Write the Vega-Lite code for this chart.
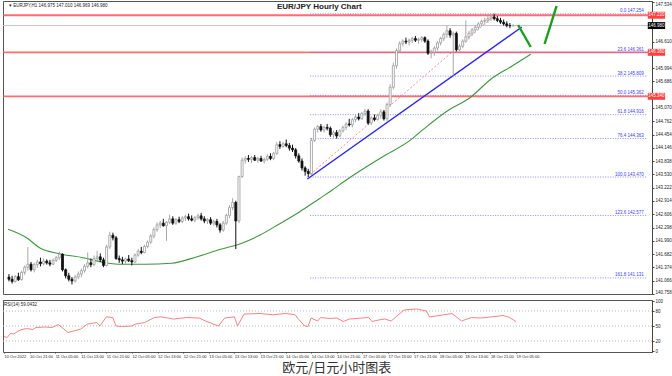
{
  "$schema": "https://vega.github.io/schema/vega-lite/v6.json",
  "background": "white",
  "padding": {"left": 1, "top": 0, "right": 0, "bottom": 0},
  "config": {
    "view": {"stroke": "#555", "strokeWidth": 1},
    "concat": {"spacing": 2},
    "axis": {"labelFont": "Liberation Sans", "labelFontSize": 4.5, "labelColor": "#222", "domainColor": "#444", "tickColor": "#444", "tickSize": 2, "labelPadding": 1, "grid": false, "title": null, "labelOverlap": false, "tickCount": 60},
    "text": {"font": "Liberation Sans"}
  },
  "title": {"text": "欧元/日元小时图表", "orient": "bottom", "anchor": "middle", "font": "Noto Sans CJK SC", "fontSize": 13, "fontWeight": "normal", "color": "#333", "offset": 3},
  "datasets": {
    "candles": [
      {"i":0,"o":141.15,"h":141.22,"l":141.05,"c":141.10},
      {"i":1,"o":141.10,"h":141.18,"l":141.00,"c":141.05},
      {"i":2,"o":141.05,"h":141.20,"l":141.02,"c":141.16},
      {"i":3,"o":141.16,"h":141.25,"l":141.06,"c":141.09},
      {"i":4,"o":141.09,"h":141.30,"l":141.07,"c":141.26},
      {"i":5,"o":141.26,"h":141.42,"l":141.20,"c":141.38},
      {"i":6,"o":141.38,"h":141.85,"l":141.30,"c":141.45},
      {"i":7,"o":141.45,"h":141.50,"l":141.28,"c":141.32},
      {"i":8,"o":141.32,"h":141.48,"l":141.26,"c":141.44},
      {"i":9,"o":141.44,"h":141.55,"l":141.36,"c":141.50},
      {"i":10,"o":141.50,"h":141.60,"l":141.40,"c":141.46},
      {"i":11,"o":141.46,"h":141.58,"l":141.42,"c":141.52},
      {"i":12,"o":141.52,"h":141.56,"l":141.44,"c":141.48},
      {"i":13,"o":141.48,"h":141.55,"l":141.40,"c":141.45},
      {"i":14,"o":141.45,"h":141.58,"l":141.43,"c":141.54},
      {"i":15,"o":141.54,"h":141.64,"l":141.50,"c":141.60},
      {"i":16,"o":141.60,"h":141.74,"l":141.55,"c":141.68},
      {"i":17,"o":141.68,"h":141.70,"l":141.28,"c":141.32},
      {"i":18,"o":141.32,"h":141.35,"l":141.12,"c":141.18},
      {"i":19,"o":141.18,"h":141.25,"l":141.05,"c":141.10},
      {"i":20,"o":141.10,"h":141.15,"l":140.98,"c":141.06},
      {"i":21,"o":141.06,"h":141.20,"l":141.02,"c":141.15},
      {"i":22,"o":141.15,"h":141.28,"l":141.10,"c":141.22},
      {"i":23,"o":141.22,"h":141.35,"l":141.15,"c":141.30},
      {"i":24,"o":141.30,"h":141.45,"l":141.25,"c":141.40},
      {"i":25,"o":141.40,"h":141.72,"l":141.35,"c":141.48},
      {"i":26,"o":141.48,"h":141.58,"l":141.38,"c":141.44},
      {"i":27,"o":141.44,"h":141.65,"l":141.40,"c":141.58},
      {"i":28,"o":141.58,"h":141.76,"l":141.52,"c":141.62},
      {"i":29,"o":141.62,"h":141.70,"l":141.50,"c":141.55},
      {"i":30,"o":141.55,"h":141.60,"l":141.38,"c":141.42},
      {"i":31,"o":141.42,"h":141.90,"l":141.40,"c":141.85},
      {"i":32,"o":141.85,"h":142.20,"l":141.80,"c":142.12},
      {"i":33,"o":142.12,"h":142.18,"l":142.00,"c":142.06},
      {"i":34,"o":142.06,"h":142.10,"l":141.55,"c":141.58},
      {"i":35,"o":141.58,"h":141.65,"l":141.48,"c":141.55},
      {"i":36,"o":141.55,"h":141.62,"l":141.45,"c":141.52},
      {"i":37,"o":141.52,"h":141.60,"l":141.46,"c":141.57},
      {"i":38,"o":141.57,"h":141.66,"l":141.50,"c":141.53},
      {"i":39,"o":141.53,"h":141.60,"l":141.42,"c":141.50},
      {"i":40,"o":141.50,"h":141.70,"l":141.48,"c":141.66},
      {"i":41,"o":141.66,"h":141.80,"l":141.62,"c":141.75},
      {"i":42,"o":141.75,"h":141.85,"l":141.68,"c":141.72},
      {"i":43,"o":141.72,"h":141.90,"l":141.70,"c":141.86},
      {"i":44,"o":141.86,"h":142.00,"l":141.82,"c":141.96},
      {"i":45,"o":141.96,"h":142.15,"l":141.92,"c":142.10},
      {"i":46,"o":142.10,"h":142.30,"l":142.05,"c":142.25},
      {"i":47,"o":142.25,"h":142.42,"l":142.20,"c":142.36},
      {"i":48,"o":142.36,"h":142.45,"l":142.28,"c":142.40},
      {"i":49,"o":142.40,"h":142.50,"l":142.32,"c":142.34},
      {"i":50,"o":142.34,"h":142.45,"l":141.99,"c":142.42},
      {"i":51,"o":142.42,"h":142.60,"l":142.38,"c":142.50},
      {"i":52,"o":142.50,"h":142.56,"l":142.36,"c":142.40},
      {"i":53,"o":142.40,"h":142.52,"l":142.36,"c":142.48},
      {"i":54,"o":142.48,"h":142.55,"l":142.40,"c":142.44},
      {"i":55,"o":142.44,"h":142.56,"l":142.40,"c":142.52},
      {"i":56,"o":142.52,"h":142.60,"l":142.45,"c":142.55},
      {"i":57,"o":142.55,"h":142.62,"l":142.46,"c":142.50},
      {"i":58,"o":142.50,"h":142.58,"l":142.44,"c":142.47},
      {"i":59,"o":142.47,"h":142.56,"l":142.42,"c":142.53},
      {"i":60,"o":142.53,"h":142.62,"l":142.48,"c":142.57},
      {"i":61,"o":142.57,"h":142.64,"l":142.46,"c":142.50},
      {"i":62,"o":142.50,"h":142.56,"l":142.40,"c":142.45},
      {"i":63,"o":142.45,"h":142.52,"l":142.38,"c":142.48},
      {"i":64,"o":142.48,"h":142.54,"l":142.36,"c":142.40},
      {"i":65,"o":142.40,"h":142.48,"l":142.34,"c":142.44},
      {"i":66,"o":142.44,"h":142.50,"l":142.30,"c":142.36},
      {"i":67,"o":142.36,"h":142.40,"l":142.18,"c":142.24},
      {"i":68,"o":142.24,"h":142.45,"l":142.20,"c":142.40},
      {"i":69,"o":142.40,"h":142.62,"l":142.36,"c":142.58},
      {"i":70,"o":142.58,"h":142.82,"l":142.52,"c":142.76},
      {"i":71,"o":142.76,"h":142.98,"l":142.70,"c":142.88},
      {"i":72,"o":142.88,"h":142.92,"l":141.80,"c":142.45},
      {"i":73,"o":142.45,"h":143.50,"l":142.40,"c":143.48},
      {"i":74,"o":143.48,"h":143.92,"l":143.45,"c":143.86},
      {"i":75,"o":143.86,"h":143.95,"l":143.78,"c":143.90},
      {"i":76,"o":143.90,"h":143.98,"l":143.82,"c":143.88},
      {"i":77,"o":143.88,"h":143.96,"l":143.80,"c":143.92},
      {"i":78,"o":143.92,"h":143.98,"l":143.84,"c":143.86},
      {"i":79,"o":143.86,"h":143.94,"l":143.80,"c":143.90},
      {"i":80,"o":143.90,"h":143.96,"l":143.82,"c":143.84},
      {"i":81,"o":143.84,"h":143.92,"l":143.78,"c":143.88},
      {"i":82,"o":143.88,"h":144.00,"l":143.84,"c":143.95},
      {"i":83,"o":143.95,"h":144.02,"l":143.86,"c":143.90},
      {"i":84,"o":143.90,"h":144.05,"l":143.86,"c":144.02},
      {"i":85,"o":144.02,"h":144.28,"l":143.98,"c":144.22},
      {"i":86,"o":144.22,"h":144.30,"l":144.12,"c":144.18},
      {"i":87,"o":144.18,"h":144.28,"l":144.14,"c":144.24},
      {"i":88,"o":144.24,"h":144.34,"l":144.16,"c":144.20},
      {"i":89,"o":144.20,"h":144.26,"l":144.08,"c":144.14},
      {"i":90,"o":144.14,"h":144.22,"l":144.05,"c":144.10},
      {"i":91,"o":144.10,"h":144.14,"l":143.90,"c":143.96},
      {"i":92,"o":143.96,"h":144.02,"l":143.80,"c":143.84},
      {"i":93,"o":143.84,"h":143.90,"l":143.62,"c":143.68},
      {"i":94,"o":143.68,"h":143.72,"l":143.50,"c":143.60},
      {"i":95,"o":143.60,"h":143.66,"l":143.47,"c":143.55},
      {"i":96,"o":143.55,"h":144.38,"l":143.52,"c":144.32},
      {"i":97,"o":144.32,"h":144.62,"l":144.28,"c":144.58},
      {"i":98,"o":144.58,"h":144.68,"l":144.50,"c":144.64},
      {"i":99,"o":144.64,"h":144.70,"l":144.52,"c":144.56},
      {"i":100,"o":144.56,"h":144.66,"l":144.50,"c":144.62},
      {"i":101,"o":144.62,"h":144.70,"l":144.55,"c":144.60},
      {"i":102,"o":144.60,"h":144.64,"l":144.40,"c":144.45},
      {"i":103,"o":144.45,"h":144.55,"l":144.38,"c":144.50},
      {"i":104,"o":144.50,"h":144.56,"l":144.36,"c":144.42},
      {"i":105,"o":144.42,"h":144.58,"l":144.40,"c":144.54},
      {"i":106,"o":144.54,"h":144.66,"l":144.50,"c":144.62},
      {"i":107,"o":144.62,"h":144.74,"l":144.56,"c":144.70},
      {"i":108,"o":144.70,"h":144.82,"l":144.64,"c":144.68},
      {"i":109,"o":144.68,"h":144.84,"l":144.62,"c":144.80},
      {"i":110,"o":144.80,"h":144.92,"l":144.74,"c":144.86},
      {"i":111,"o":144.86,"h":144.95,"l":144.78,"c":144.82},
      {"i":112,"o":144.82,"h":144.98,"l":144.80,"c":144.94},
      {"i":113,"o":144.94,"h":145.05,"l":144.88,"c":145.00},
      {"i":114,"o":145.00,"h":145.04,"l":144.68,"c":144.72},
      {"i":115,"o":144.72,"h":144.88,"l":144.68,"c":144.84},
      {"i":116,"o":144.84,"h":144.92,"l":144.76,"c":144.80},
      {"i":117,"o":144.80,"h":144.94,"l":144.78,"c":144.90},
      {"i":118,"o":144.90,"h":145.04,"l":144.82,"c":144.98},
      {"i":119,"o":144.98,"h":145.02,"l":144.78,"c":144.82},
      {"i":120,"o":144.82,"h":145.20,"l":144.76,"c":145.15},
      {"i":121,"o":145.15,"h":145.62,"l":145.10,"c":145.55},
      {"i":122,"o":145.55,"h":146.12,"l":145.50,"c":146.05},
      {"i":123,"o":146.05,"h":146.45,"l":145.98,"c":146.40},
      {"i":124,"o":146.40,"h":146.62,"l":146.35,"c":146.56},
      {"i":125,"o":146.56,"h":146.66,"l":146.50,"c":146.62},
      {"i":126,"o":146.62,"h":146.70,"l":146.55,"c":146.60},
      {"i":127,"o":146.60,"h":146.68,"l":146.52,"c":146.64},
      {"i":128,"o":146.64,"h":146.72,"l":146.58,"c":146.68},
      {"i":129,"o":146.68,"h":146.74,"l":146.60,"c":146.64},
      {"i":130,"o":146.64,"h":146.70,"l":146.56,"c":146.66},
      {"i":131,"o":146.66,"h":146.74,"l":146.60,"c":146.70},
      {"i":132,"o":146.70,"h":146.73,"l":146.58,"c":146.62},
      {"i":133,"o":146.62,"h":146.66,"l":146.30,"c":146.34},
      {"i":134,"o":146.34,"h":146.42,"l":146.22,"c":146.36},
      {"i":135,"o":146.36,"h":146.50,"l":146.28,"c":146.46},
      {"i":136,"o":146.46,"h":146.62,"l":146.40,"c":146.58},
      {"i":137,"o":146.58,"h":146.72,"l":146.52,"c":146.68},
      {"i":138,"o":146.68,"h":146.82,"l":146.62,"c":146.78},
      {"i":139,"o":146.78,"h":146.98,"l":146.70,"c":146.86},
      {"i":140,"o":146.86,"h":146.92,"l":146.70,"c":146.76},
      {"i":141,"o":146.76,"h":146.84,"l":145.82,"c":146.80},
      {"i":142,"o":146.80,"h":146.84,"l":146.38,"c":146.42},
      {"i":143,"o":146.42,"h":146.55,"l":146.38,"c":146.50},
      {"i":144,"o":146.50,"h":146.66,"l":146.46,"c":146.62},
      {"i":145,"o":146.62,"h":147.10,"l":146.58,"c":146.72},
      {"i":146,"o":146.72,"h":146.86,"l":146.66,"c":146.80},
      {"i":147,"o":146.80,"h":146.92,"l":146.74,"c":146.88},
      {"i":148,"o":146.88,"h":147.00,"l":146.82,"c":146.94},
      {"i":149,"o":146.94,"h":147.06,"l":146.88,"c":147.02},
      {"i":150,"o":147.02,"h":147.12,"l":146.96,"c":147.08},
      {"i":151,"o":147.08,"h":147.16,"l":147.00,"c":147.10},
      {"i":152,"o":147.10,"h":147.20,"l":147.04,"c":147.14},
      {"i":153,"o":147.14,"h":147.24,"l":147.08,"c":147.18},
      {"i":154,"o":147.18,"h":147.254,"l":147.10,"c":147.14},
      {"i":155,"o":147.14,"h":147.20,"l":147.06,"c":147.10},
      {"i":156,"o":147.10,"h":147.16,"l":147.02,"c":147.06},
      {"i":157,"o":147.06,"h":147.12,"l":146.98,"c":147.02},
      {"i":158,"o":147.02,"h":147.08,"l":146.94,"c":146.98},
      {"i":159,"o":146.98,"h":147.04,"l":146.92,"c":146.975},
      {"i":160,"o":146.975,"h":147.010,"l":146.969,"c":146.980}
    ],
    "ma": [
      {"i":-0.3,"p":142.26},{"i":5.6,"p":142.063},{"i":9.7,"p":141.831},{"i":16,"p":141.692},
      {"i":23.5,"p":141.6},{"i":30.6,"p":141.484},{"i":35.9,"p":141.447},{"i":43.1,"p":141.447},
      {"i":51.6,"p":141.47},{"i":59.7,"p":141.623},{"i":67.2,"p":141.794},{"i":73.5,"p":141.924},
      {"i":79.7,"p":142.126},{"i":85.95,"p":142.388},{"i":92.2,"p":142.659},{"i":98.5,"p":142.967},
      {"i":102.5,"p":143.162},{"i":106.6,"p":143.378},{"i":118.1,"p":143.918},{"i":127.5,"p":144.33},
      {"i":131.6,"p":144.58},{"i":139.1,"p":145.0},{"i":146.3,"p":145.308},{"i":153.5,"p":145.772},
      {"i":159.7,"p":146.043},{"i":165.6,"p":146.315}
    ],
    "levels": [{"p":147.22,"label":"147.220"},{"p":146.36,"label":"146.360"},{"p":145.34,"label":"145.340"}],
    "fib": [
      {"p":147.254,"label":"0.0 147.254"},{"p":146.361,"label":"23.6 146.361"},{"p":145.809,"label":"38.2 145.809"},
      {"p":145.362,"label":"50.0 145.362"},{"p":144.916,"label":"61.8 144.916"},{"p":144.363,"label":"76.4 144.363"},
      {"p":143.47,"label":"100.0 143.470"},{"p":142.577,"label":"123.6 142.577"},{"p":141.131,"label":"161.8 141.131"}
    ],
    "rsi": [
      {"i":0,"v":29},{"i":1,"v":27},{"i":2,"v":35},{"i":3,"v":34},{"i":5,"v":41.7},{"i":7,"v":45},{"i":9,"v":43},
      {"i":10,"v":47},{"i":13,"v":48},{"i":15,"v":47},{"i":17,"v":53},{"i":20,"v":37},{"i":24,"v":43.7},{"i":26,"v":53.7},
      {"i":29,"v":57},{"i":30,"v":50},{"i":32,"v":68.4},{"i":34,"v":67},{"i":35,"v":50},{"i":37,"v":49},{"i":40,"v":50},
      {"i":41,"v":53.7},{"i":44,"v":57},{"i":47,"v":67},{"i":49,"v":68.4},{"i":53,"v":64},{"i":57,"v":67},{"i":61,"v":66},
      {"i":63,"v":60},{"i":65,"v":55},{"i":67,"v":50},{"i":69,"v":66},{"i":72,"v":68.4},{"i":73,"v":50},{"i":75,"v":73.8},
      {"i":80,"v":75},{"i":84,"v":72.5},{"i":88,"v":75},{"i":91,"v":72.5},{"i":92,"v":63.8},{"i":94,"v":50},{"i":95,"v":49},
      {"i":96,"v":66},{"i":98,"v":60},{"i":99,"v":67},{"i":102,"v":65},{"i":104,"v":66},{"i":106,"v":59},{"i":108,"v":64},
      {"i":112,"v":66},{"i":114,"v":67},{"i":115,"v":59},{"i":117,"v":62},{"i":119,"v":64},{"i":121,"v":60},{"i":125,"v":82},
      {"i":129,"v":84},{"i":132,"v":80},{"i":133,"v":68},{"i":137,"v":72},{"i":140,"v":75},{"i":143,"v":60},{"i":146,"v":67},
      {"i":149,"v":66},{"i":152,"v":68},{"i":156,"v":71},{"i":158,"v":67},{"i":160,"v":59}
    ]
  },
  "vconcat": [
    {
      "width": 649,
      "height": 293,
      "layer": [
        {
          "data": {"name": "levels"},
          "mark": {"type": "rule", "color": "#ff5c5c", "strokeWidth": 1.8, "opacity": 0.9},
          "encoding": {
            "y": {"field": "p", "type": "quantitative", "scale": {"domain": [140.758, 147.55], "nice": false, "zero": false},
              "axis": {"orient": "right", "labelOverlap": false, "labelFlush": true, "tickCount": 60, "values": [140.758,141.066,141.374,141.682,141.99,142.298,142.606,142.914,143.222,143.53,143.838,144.146,144.454,144.762,145.07,145.686,145.994,146.61,147.534], "format": ".3f"}}
          }
        },
        {
          "data": {"values": [{"p": 146.98}]},
          "mark": {"type": "rule", "color": "#c4c4c4", "strokeWidth": 1},
          "encoding": {"y": {"field": "p", "type": "quantitative"}}
        },
        {
          "data": {"name": "fib"},
          "mark": {"type": "rule", "color": "#7070ff", "strokeWidth": 1, "strokeDash": [1, 1.5], "opacity": 0.8},
          "encoding": {
            "x": {"datum": 95.6, "type": "quantitative", "scale": {"domain": [-0.3, 202.5], "nice": false, "zero": false}, "axis": null},
            "x2": {"datum": 202.5},
            "y": {"field": "p", "type": "quantitative"}
          }
        },
        {
          "data": {"name": "fib"},
          "mark": {"type": "text", "align": "right", "baseline": "bottom", "dy": -0.5, "fontSize": 4.5, "color": "#4040ff"},
          "encoding": {
            "x": {"datum": 201.5, "type": "quantitative"},
            "y": {"field": "p", "type": "quantitative"},
            "text": {"field": "label"}
          }
        },
        {
          "data": {"values": [{"i": 94.7, "p": 143.47}, {"i": 154.7, "p": 147.254}]},
          "mark": {"type": "line", "color": "#ff8c8c", "strokeWidth": 1, "strokeDash": [2, 2]},
          "encoding": {"x": {"field": "i", "type": "quantitative"}, "y": {"field": "p", "type": "quantitative"}}
        },
        {
          "data": {"name": "ma"},
          "mark": {"type": "line", "color": "#3a9a3a", "strokeWidth": 1.1, "interpolate": "monotone"},
          "encoding": {"x": {"field": "i", "type": "quantitative"}, "y": {"field": "p", "type": "quantitative"}}
        },
        {
          "data": {"values": [{"i": 94.7, "p": 143.424}, {"i": 162.8, "p": 146.947}]},
          "mark": {"type": "line", "color": "#2525ff", "strokeWidth": 1.4},
          "encoding": {"x": {"field": "i", "type": "quantitative"}, "y": {"field": "p", "type": "quantitative"}}
        },
        {
          "data": {"values": [
            {"seg": "a", "i": 161.6, "p": 146.994}, {"seg": "a", "i": 165.6, "p": 146.484},
            {"seg": "b", "i": 170.0, "p": 146.553}, {"seg": "b", "i": 173.8, "p": 147.434}
          ]},
          "mark": {"type": "line", "color": "#19a019", "strokeWidth": 2.4},
          "encoding": {"x": {"field": "i", "type": "quantitative"}, "y": {"field": "p", "type": "quantitative"}, "detail": {"field": "seg"}}
        },
        {
          "data": {"name": "candles"},
          "mark": {"type": "rule", "strokeWidth": 1},
          "encoding": {
            "x": {"field": "i", "type": "quantitative"},
            "y": {"field": "l", "type": "quantitative"},
            "y2": {"field": "h"},
            "color": {"condition": {"test": "datum.c >= datum.o", "value": "#a8a8a8"}, "value": "#111111"}
          }
        },
        {
          "data": {"name": "candles"},
          "mark": {"type": "bar", "size": 2, "strokeWidth": 0.8},
          "encoding": {
            "x": {"field": "i", "type": "quantitative"},
            "y": {"field": "o", "type": "quantitative"},
            "y2": {"field": "c"},
            "fill": {"condition": {"test": "datum.c >= datum.o", "value": "#ffffff"}, "value": "#111111"},
            "stroke": {"condition": {"test": "datum.c >= datum.o", "value": "#9a9a9a"}, "value": "#111111"}
          }
        },
        {
          "data": {"values": [
            {"p": 147.22, "kind": "level"},
            {"p": 146.36, "kind": "level"},
            {"p": 145.34, "kind": "level"},
            {"p": 146.98, "kind": "price"}
          ]},
          "mark": {"type": "point", "filled": true, "opacity": 1, "shape": "M-1,-0.4L1,-0.4L1,0.4L-1,0.4Z", "size": 300},
          "encoding": {
            "x": {"datum": 205.5, "type": "quantitative"},
            "y": {"field": "p", "type": "quantitative"},
            "color": {"condition": {"test": "datum.kind === 'price'", "value": "#000000"}, "value": "#ff4040"}
          }
        },
        {
          "data": {"values": [
            {"p": 147.22, "label": "147.220"},
            {"p": 146.36, "label": "146.360"},
            {"p": 145.34, "label": "145.340"},
            {"p": 146.98, "label": "146.980"}
          ]},
          "mark": {"type": "text", "align": "center", "baseline": "middle", "fontSize": 4.5, "color": "#ffffff"},
          "encoding": {
            "x": {"datum": 205.5, "type": "quantitative"},
            "y": {"field": "p", "type": "quantitative"},
            "text": {"field": "label"}
          }
        },
        {
          "data": {"values": [{"i": 0, "p": 147.55, "label": "▾ EURJPY,H1  146.975 147.010 146.969 146.980"}]},
          "mark": {"type": "text", "align": "left", "baseline": "top", "dy": 2, "fontSize": 4.5, "color": "#222"},
          "encoding": {
            "x": {"field": "i", "type": "quantitative"},
            "y": {"field": "p", "type": "quantitative"},
            "text": {"field": "label"}
          }
        },
        {
          "data": {"values": [{"i": 98.5, "p": 147.55, "label": "EUR/JPY Hourly Chart"}]},
          "mark": {"type": "text", "align": "center", "baseline": "top", "dy": 1.5, "fontSize": 8, "fontWeight": "bold", "color": "#222"},
          "encoding": {
            "x": {"field": "i", "type": "quantitative"},
            "y": {"field": "p", "type": "quantitative"},
            "text": {"field": "label"}
          }
        }
      ]
    },
    {
      "width": 649,
      "height": 52,
      "layer": [
        {
          "data": {"values": [{"v": 20}, {"v": 50}, {"v": 80}]},
          "mark": {"type": "rule", "color": "#bbbbbb", "strokeWidth": 1, "strokeDash": [1, 2]},
          "encoding": {
            "y": {"field": "v", "type": "quantitative", "scale": {"domain": [-2, 102], "nice": false, "zero": false},
              "axis": {"orient": "right", "values": [0, 20, 50, 80, 100], "format": "d", "labelOverlap": false, "tickCount": 20}}
          }
        },
        {
          "data": {"name": "rsi"},
          "mark": {"type": "line", "color": "#ff7070", "strokeWidth": 0.9},
          "encoding": {
            "x": {"field": "i", "type": "quantitative", "scale": {"domain": [-0.3, 202.5], "nice": false, "zero": false},
              "axis": {"values": [0,8,16,24,32,40,48,56,64,72,80,88,96,104,112,120,128,136,144,152,160], "tickCount": 60, "tickSize": 1,
                "labelAlign": "left", "labelBaseline": "top", "labelPadding": 1, "labelFontSize": 4, "labelFlush": false, "labelOverlap": false, "labelBound": false, "domain": false,
                "labelExpr": "['10 Oct 2022','10 Oct 21:00','11 Oct 05:00','11 Oct 13:00','11 Oct 21:00','12 Oct 05:00','12 Oct 13:00','12 Oct 21:00','13 Oct 05:00','13 Oct 13:00','13 Oct 21:00','14 Oct 05:00','14 Oct 13:00','14 Oct 21:00','17 Oct 05:00','17 Oct 13:00','17 Oct 21:00','18 Oct 05:00','18 Oct 13:00','18 Oct 21:00','19 Oct 05:00'][round(datum.value/8)]"}},
            "y": {"field": "v", "type": "quantitative"}
          }
        },
        {
          "data": {"values": [{"i": 0, "v": 102, "label": "RSI(14) 59.0432"}]},
          "mark": {"type": "text", "align": "left", "baseline": "top", "dy": 2, "fontSize": 4.5, "color": "#222"},
          "encoding": {
            "x": {"field": "i", "type": "quantitative"},
            "y": {"field": "v", "type": "quantitative"},
            "text": {"field": "label"}
          }
        }
      ]
    }
  ]
}
